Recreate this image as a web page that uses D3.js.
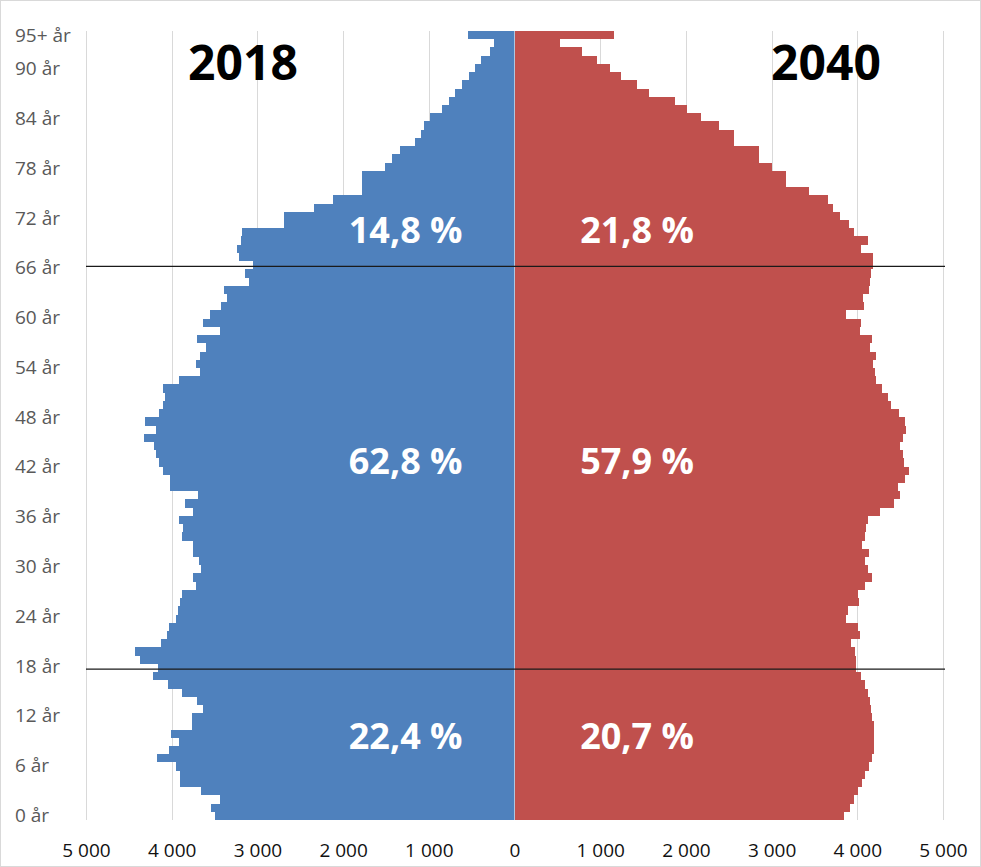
<!DOCTYPE html>
<html>
<head>
<meta charset="utf-8">
<script src="https://cdn.jsdelivr.net/npm/d3@7"></script>
<style>
  html, body { margin: 0; padding: 0; background: #ffffff; }
  svg { display: block; }
</style>
</head>
<body>
<svg id="chart" width="981" height="867"></svg>
<script>
// ---------------- DATA ----------------
const ages = [
  "0 år","1 år","2 år","3 år","4 år","5 år","6 år","7 år","8 år","9 år",
  "10 år","11 år","12 år","13 år","14 år","15 år","16 år","17 år","18 år","19 år",
  "20 år","21 år","22 år","23 år","24 år","25 år","26 år","27 år","28 år","29 år",
  "30 år","31 år","32 år","33 år","34 år","35 år","36 år","37 år","38 år","39 år",
  "40 år","41 år","42 år","43 år","44 år","45 år","46 år","47 år","48 år","49 år",
  "50 år","51 år","52 år","53 år","54 år","55 år","56 år","57 år","58 år","59 år",
  "60 år","61 år","62 år","63 år","64 år","65 år","66 år","67 år","68 år","69 år",
  "70 år","71 år","72 år","73 år","74 år","75 år","76 år","77 år","78 år","79 år",
  "80 år","81 år","82 år","83 år","84 år","85 år","86 år","87 år","88 år","89 år",
  "90 år","91 år","92 år","93 år","94 år","95+ år"
];

const pop2018 = [
  3500,3546,3440,3662,3908,3908,3947,4173,4033,3916,
  4013,3760,3768,3636,3706,3880,4044,4220,4163,4375,
  4433,4121,4051,4033,3955,3928,3908,3880,3721,3750,
  3661,3680,3750,3750,3880,3869,3916,3752,3849,3694,
  4016,4016,4103,4150,4188,4211,4328,4188,4316,4150,
  4100,4083,4103,3916,3674,3721,3674,3604,3706,3440,
  3636,3557,3425,3359,3390,3102,3148,3051,3210,3240,
  3190,3180,2693,2693,2342,2117,1778,1778,1778,1513,
  1428,1338,1162,1092,1054,987,850,765,695,617,
  532,461,395,286,236,540
];

const pop2040 = [
  3849,3911,3966,4005,4056,4095,4133,4173,4192,4200,
  4200,4192,4173,4161,4145,4122,4095,4044,3990,3990,
  3978,3928,4028,4005,3873,3888,4016,4005,4087,4173,
  4122,4095,4133,4056,4095,4106,4122,4262,4433,4504,
  4472,4562,4600,4542,4535,4504,4535,4574,4562,4492,
  4395,4360,4290,4223,4211,4185,4223,4145,4173,4028,
  4044,3873,4075,4068,4133,4153,4161,4185,4185,4044,
  4122,3958,3900,3794,3717,3659,3440,3172,3172,3005,
  2848,2848,2564,2564,2381,2175,2011,1875,1571,1427,
  1244,1116,967,785,532,1162
];

const yTickLabels = ["0 år","6 år","12 år","18 år","24 år","30 år","36 år","42 år",
                     "48 år","54 år","60 år","66 år","72 år","78 år","84 år","90 år","95+ år"];
const xTickValues = [-5000,-4000,-3000,-2000,-1000,0,1000,2000,3000,4000,5000];
const years = ["2018","2040"];
const shares2018 = ["22,4 %","62,8 %","14,8 %"];
const shares2040 = ["20,7 %","57,9 %","21,8 %"];
const groupBreaks = ["18 år","67 år"];

// ---------------- LAYOUT ----------------
const W = 981, H = 867;
const plotTop = 31, plotBottom = 820;
const FONT = "'Open Sans', 'DejaVu Sans', sans-serif";
const BLUE = "#4F81BD", RED = "#C0504D";

const svg = d3.select("#chart");

svg.append("rect")
  .attr("x", 0.5).attr("y", 0.5)
  .attr("width", W - 1).attr("height", H - 1)
  .attr("fill", "#ffffff").attr("stroke", "#d9d9d9");

const x = d3.scaleLinear().domain([-5000, 5000]).range([86, 943]);
const y = d3.scaleBand().domain(ages).range([plotBottom, plotTop]).padding(0);

// label placement scale for the category axis text
const labelY = d3.scaleLinear().domain([0, 90]).range([815, 68.5]);

// gridlines
svg.append("g").selectAll("line")
  .data(xTickValues)
  .join("line")
  .attr("x1", d => Math.round(x(d)) + 0.5)
  .attr("x2", d => Math.round(x(d)) + 0.5)
  .attr("y1", plotTop).attr("y2", plotBottom)
  .attr("stroke", "#d9d9d9").attr("stroke-width", 1);

const rows = ages.map((a, i) => ({ age: a, v18: pop2018[i], v40: pop2040[i] }));

// bars 2018 (left)
svg.append("g").attr("shape-rendering", "crispEdges").selectAll("rect")
  .data(rows)
  .join("rect")
  .attr("x", d => x(-d.v18))
  .attr("y", d => y(d.age))
  .attr("width", d => x(0) - x(-d.v18))
  .attr("height", y.bandwidth())
  .attr("fill", BLUE);

// bars 2040 (right)
svg.append("g").attr("shape-rendering", "crispEdges").selectAll("rect")
  .data(rows)
  .join("rect")
  .attr("x", x(0))
  .attr("y", d => y(d.age))
  .attr("width", d => x(d.v40) - x(0))
  .attr("height", y.bandwidth())
  .attr("fill", RED);

// thin light line at zero
svg.append("line")
  .attr("x1", x(0)).attr("x2", x(0))
  .attr("y1", plotTop).attr("y2", plotBottom)
  .attr("stroke", "#ffffff").attr("stroke-opacity", 0.55).attr("stroke-width", 1);

// group separator lines
svg.append("g").selectAll("line")
  .data(groupBreaks)
  .join("line")
  .attr("x1", 86).attr("x2", 945)
  .attr("y1", d => y(d) + y.bandwidth() - 3)
  .attr("y2", d => y(d) + y.bandwidth() - 3)
  .attr("stroke", "#1a1a1a").attr("stroke-width", 1.3);

// x axis
const xAxis = d3.axisBottom(x)
  .tickValues(xTickValues)
  .tickSize(0)
  .tickPadding(24)
  .tickFormat(v => d3.format(",")(Math.abs(v)).replace(/,/g, "\u2009".replace("\u2009", " ")));
const gx = svg.append("g").attr("transform", `translate(0,${plotBottom})`).call(xAxis);
gx.select(".domain").remove();
gx.selectAll("text")
  .attr("font-family", FONT).attr("font-size", 19).attr("fill", "#111111");

// y axis labels (left aligned)
svg.append("g").selectAll("text")
  .data(yTickLabels)
  .join("text")
  .attr("x", 15)
  .attr("y", d => d === "95+ år" ? y(d) + y.bandwidth() / 2 : labelY(parseInt(d)))
  .attr("dy", "0.36em")
  .attr("font-family", FONT).attr("font-size", 19).attr("fill", "#595959")
  .text(d => d);

// year titles
svg.append("g").selectAll("text")
  .data(years)
  .join("text")
  .attr("x", (d, i) => i === 0 ? 243 : 826)
  .attr("y", 80)
  .attr("text-anchor", "middle")
  .attr("font-family", FONT).attr("font-weight", "bold").attr("font-size", 48)
  .attr("fill", "#000000")
  .text(d => d);

// share labels
const shareBaselines = [749, 474, 243];
const shareLabels = [
  ...shares2018.map((s, i) => ({ s, x: x(-1270), y: shareBaselines[i] })),
  ...shares2040.map((s, i) => ({ s, x: x(1430), y: shareBaselines[i] }))
];
svg.append("g").selectAll("text")
  .data(shareLabels)
  .join("text")
  .attr("x", d => d.x).attr("y", d => d.y)
  .attr("text-anchor", "middle")
  .attr("font-family", FONT).attr("font-weight", "bold").attr("font-size", 36)
  .attr("fill", "#ffffff")
  .text(d => d.s);
</script>
</body>
</html>
